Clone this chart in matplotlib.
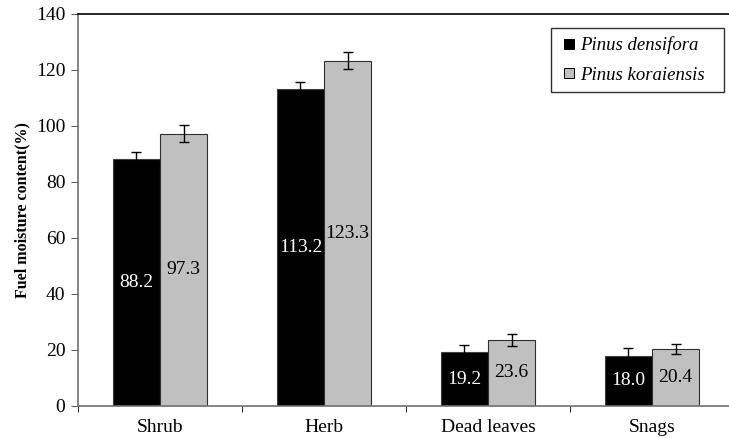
import matplotlib
matplotlib.use("Agg")
import matplotlib.pyplot as plt
from matplotlib.lines import Line2D
import numpy as np

categories = ["Shrub", "Herb", "Dead leaves", "Snags"]
series_names = ["Pinus densifora", "Pinus koraiensis"]
densifora = [88.2, 113.2, 19.2, 18.0]
koraiensis = [97.3, 123.3, 23.6, 20.4]
densifora_err = [2.5, 2.5, 2.7, 2.6]
koraiensis_err = [3.1, 3.1, 2.2, 1.8]
yticks = [0, 20, 40, 60, 80, 100, 120, 140]
colors = ["black", "#C0C0C0"]

serif = "Liberation Serif"

fig = plt.figure(figsize=(7.29, 4.38), dpi=100)
ax = fig.add_axes([78/729, 1-406/438, 656/729, 392/438])

x = np.arange(len(categories))
w = 0.287
ax.bar(x - w/2, densifora, w, color=colors[0], edgecolor="#404040", linewidth=0.8, zorder=2)
ax.bar(x + w/2, koraiensis, w, color=colors[1], edgecolor="#303030", linewidth=0.8, zorder=2)
ax.errorbar(x - w/2, densifora, yerr=densifora_err, fmt="none", ecolor="black",
            elinewidth=1, capsize=3.5, capthick=1, zorder=3)
ax.errorbar(x + w/2, koraiensis, yerr=koraiensis_err, fmt="none", ecolor="black",
            elinewidth=1, capsize=3.5, capthick=1, zorder=3)

for xi, v in zip(x - w/2, densifora):
    ax.text(xi, v/2, f"{v:.1f}", ha="center", va="center", color="white",
            fontsize=14, family=serif, zorder=4)
for xi, v in zip(x + w/2, koraiensis):
    ax.text(xi, v/2, f"{v:.1f}", ha="center", va="center", color="black",
            fontsize=14, family=serif, zorder=4)

ax.set_xlim(-0.5, len(categories) - 0.5)
ax.set_ylim(0, 140)
ax.set_yticks(yticks)
ax.set_yticklabels([str(t) for t in yticks], family=serif, fontsize=14)
ax.set_xticks(x)
ax.set_xticklabels(categories, family=serif, fontsize=14)
ax.tick_params(axis="x", which="major", length=0, pad=9)
ax.set_xticks(np.arange(len(categories) + 1) - 0.5, minor=True)
ax.tick_params(axis="x", which="minor", length=4, direction="out", color="black")
ax.tick_params(axis="y", length=5, direction="out", color="#606060", pad=4)

ax.spines["right"].set_visible(False)
ax.spines["left"].set_color("#707070")
ax.spines["bottom"].set_color("#707070")
ax.spines["top"].set_color("black")
for s in ax.spines.values():
    s.set_linewidth(1.2)

ax.set_ylabel("Fuel moisture content(%)", family=serif, fontweight="bold", fontsize=11.5, labelpad=4)

handles = [Line2D([], [], linestyle="none", marker="s", markersize=6.5,
                  markerfacecolor=c, markeredgecolor="black", markeredgewidth=0.7)
           for c in colors]
leg = ax.legend(handles, series_names, loc="upper left",
                bbox_to_anchor=(551/729, 1-90/438, 173/729, 62/438),
                bbox_transform=fig.transFigure, mode="expand", borderaxespad=0,
                prop={"family": serif, "style": "italic", "size": 13.5},
                fancybox=False, edgecolor="#303030", framealpha=1,
                handlelength=1.0, handletextpad=0.1,
                labelspacing=0.65, borderpad=0.45)
leg.get_frame().set_linewidth(1.0)

fig.savefig("out.png", dpi=100)
